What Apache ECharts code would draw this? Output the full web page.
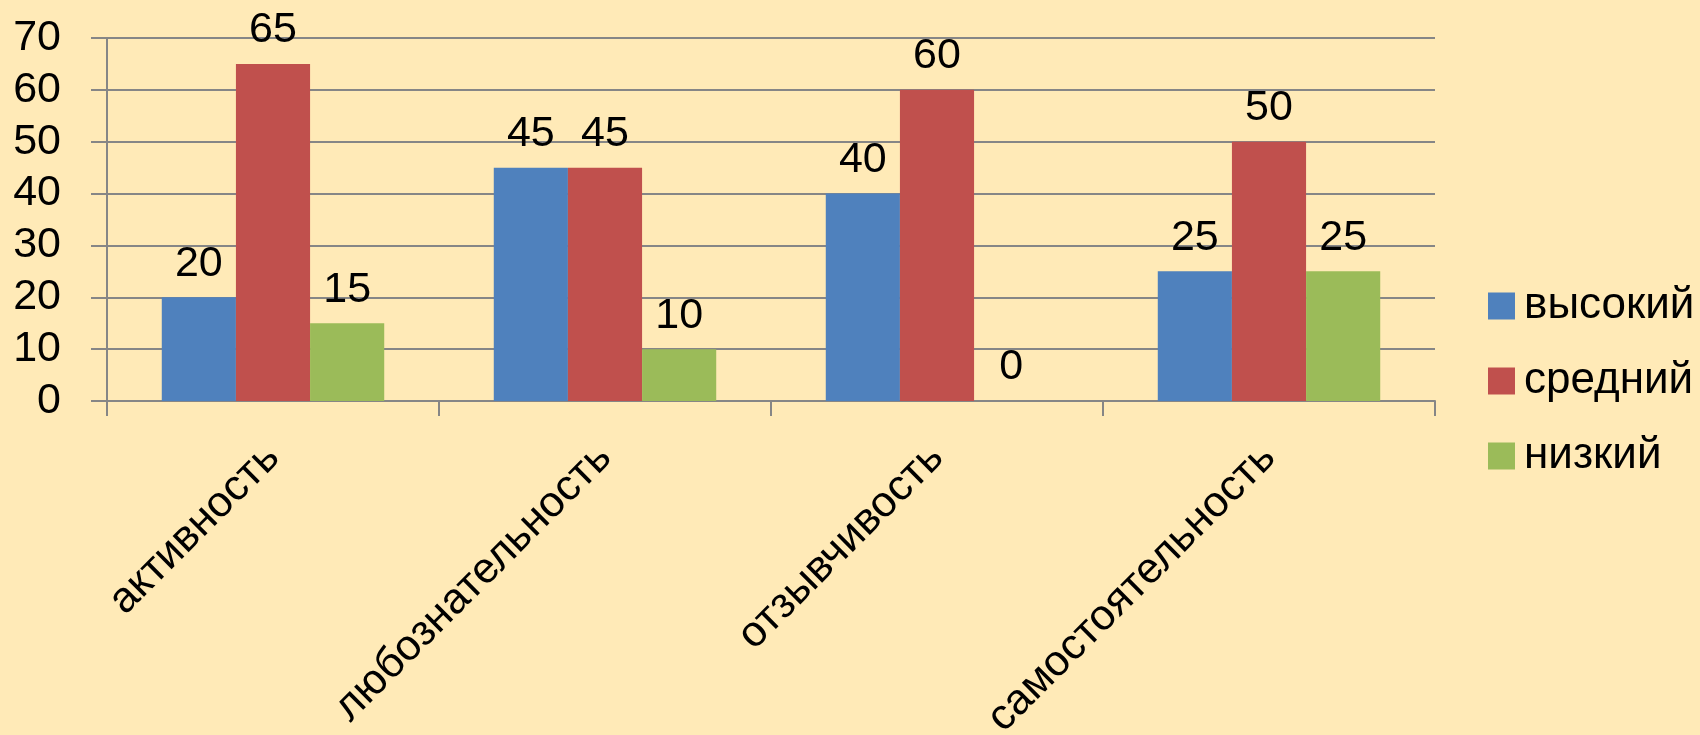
<!DOCTYPE html>
<html>
<head>
<meta charset="utf-8">
<script src="https://cdn.jsdelivr.net/npm/echarts@6/dist/echarts.min.js"></script>
<style>
html,body{margin:0;padding:0;background:#FFEAB7;}
#c{width:1700px;height:735px;}
</style>
</head>
<body>
<div id="c"></div>
<script>
const categories = ['активность', 'любознательность', 'отзывчивость', 'самостоятельность'];
const seriesNames = ['высокий', 'средний', 'низкий'];
const high = [20, 45, 40, 25];
const mid = [65, 45, 60, 50];
const low = [15, 10, 0, 25];
const yTicks = [0, 10, 20, 30, 40, 50, 60, 70];

const colors = ['#4F81BD', '#C0504D', '#9BBB59'];
const font = 'Liberation Sans';
const chart = echarts.init(document.getElementById('c'));
const values = [high, mid, low];
chart.setOption({
  backgroundColor: '#FFEAB7',
  animation: false,
  textStyle: { fontFamily: font },
  grid: { left: 107, right: 265, top: 38, bottom: 334, containLabel: false, outerBoundsMode: 'none' },
  legend: {
    orient: 'vertical',
    left: 1483,
    top: 279,
    itemWidth: 27,
    itemHeight: 27,
    itemGap: 31,
    icon: 'rect',
    textStyle: { fontSize: 44, color: '#000', fontFamily: font, padding: [0, 0, 0, 4] },
    data: seriesNames
  },
  xAxis: {
    type: 'category',
    data: categories,
    axisLine: { lineStyle: { color: '#868686', width: 2 } },
    axisTick: { show: true, length: 15, lineStyle: { color: '#868686', width: 2 } },
    axisLabel: { rotate: 45, fontSize: 43, color: '#000', margin: 50, interval: 0, fontFamily: font }
  },
  yAxis: {
    type: 'value',
    min: 0, max: 70, interval: 10,
    axisLine: { show: true, lineStyle: { color: '#868686', width: 2 } },
    axisTick: { show: true, length: 16, lineStyle: { color: '#868686', width: 2 } },
    splitLine: { lineStyle: { color: '#868686', width: 2 } },
    axisLabel: {
      fontSize: 43, color: '#000', margin: 46, fontFamily: font,
      formatter: v => yTicks.includes(v) ? String(v) : ''
    }
  },
  series: seriesNames.map((n, i) => ({
    name: n,
    type: 'bar',
    data: values[i],
    barGap: '0%',
    barCategoryGap: '33%',
    itemStyle: { color: colors[i] },
    label: { show: true, position: 'top', distance: 12, fontSize: 43, color: '#000', fontFamily: font }
  }))
});
</script>
</body>
</html>
